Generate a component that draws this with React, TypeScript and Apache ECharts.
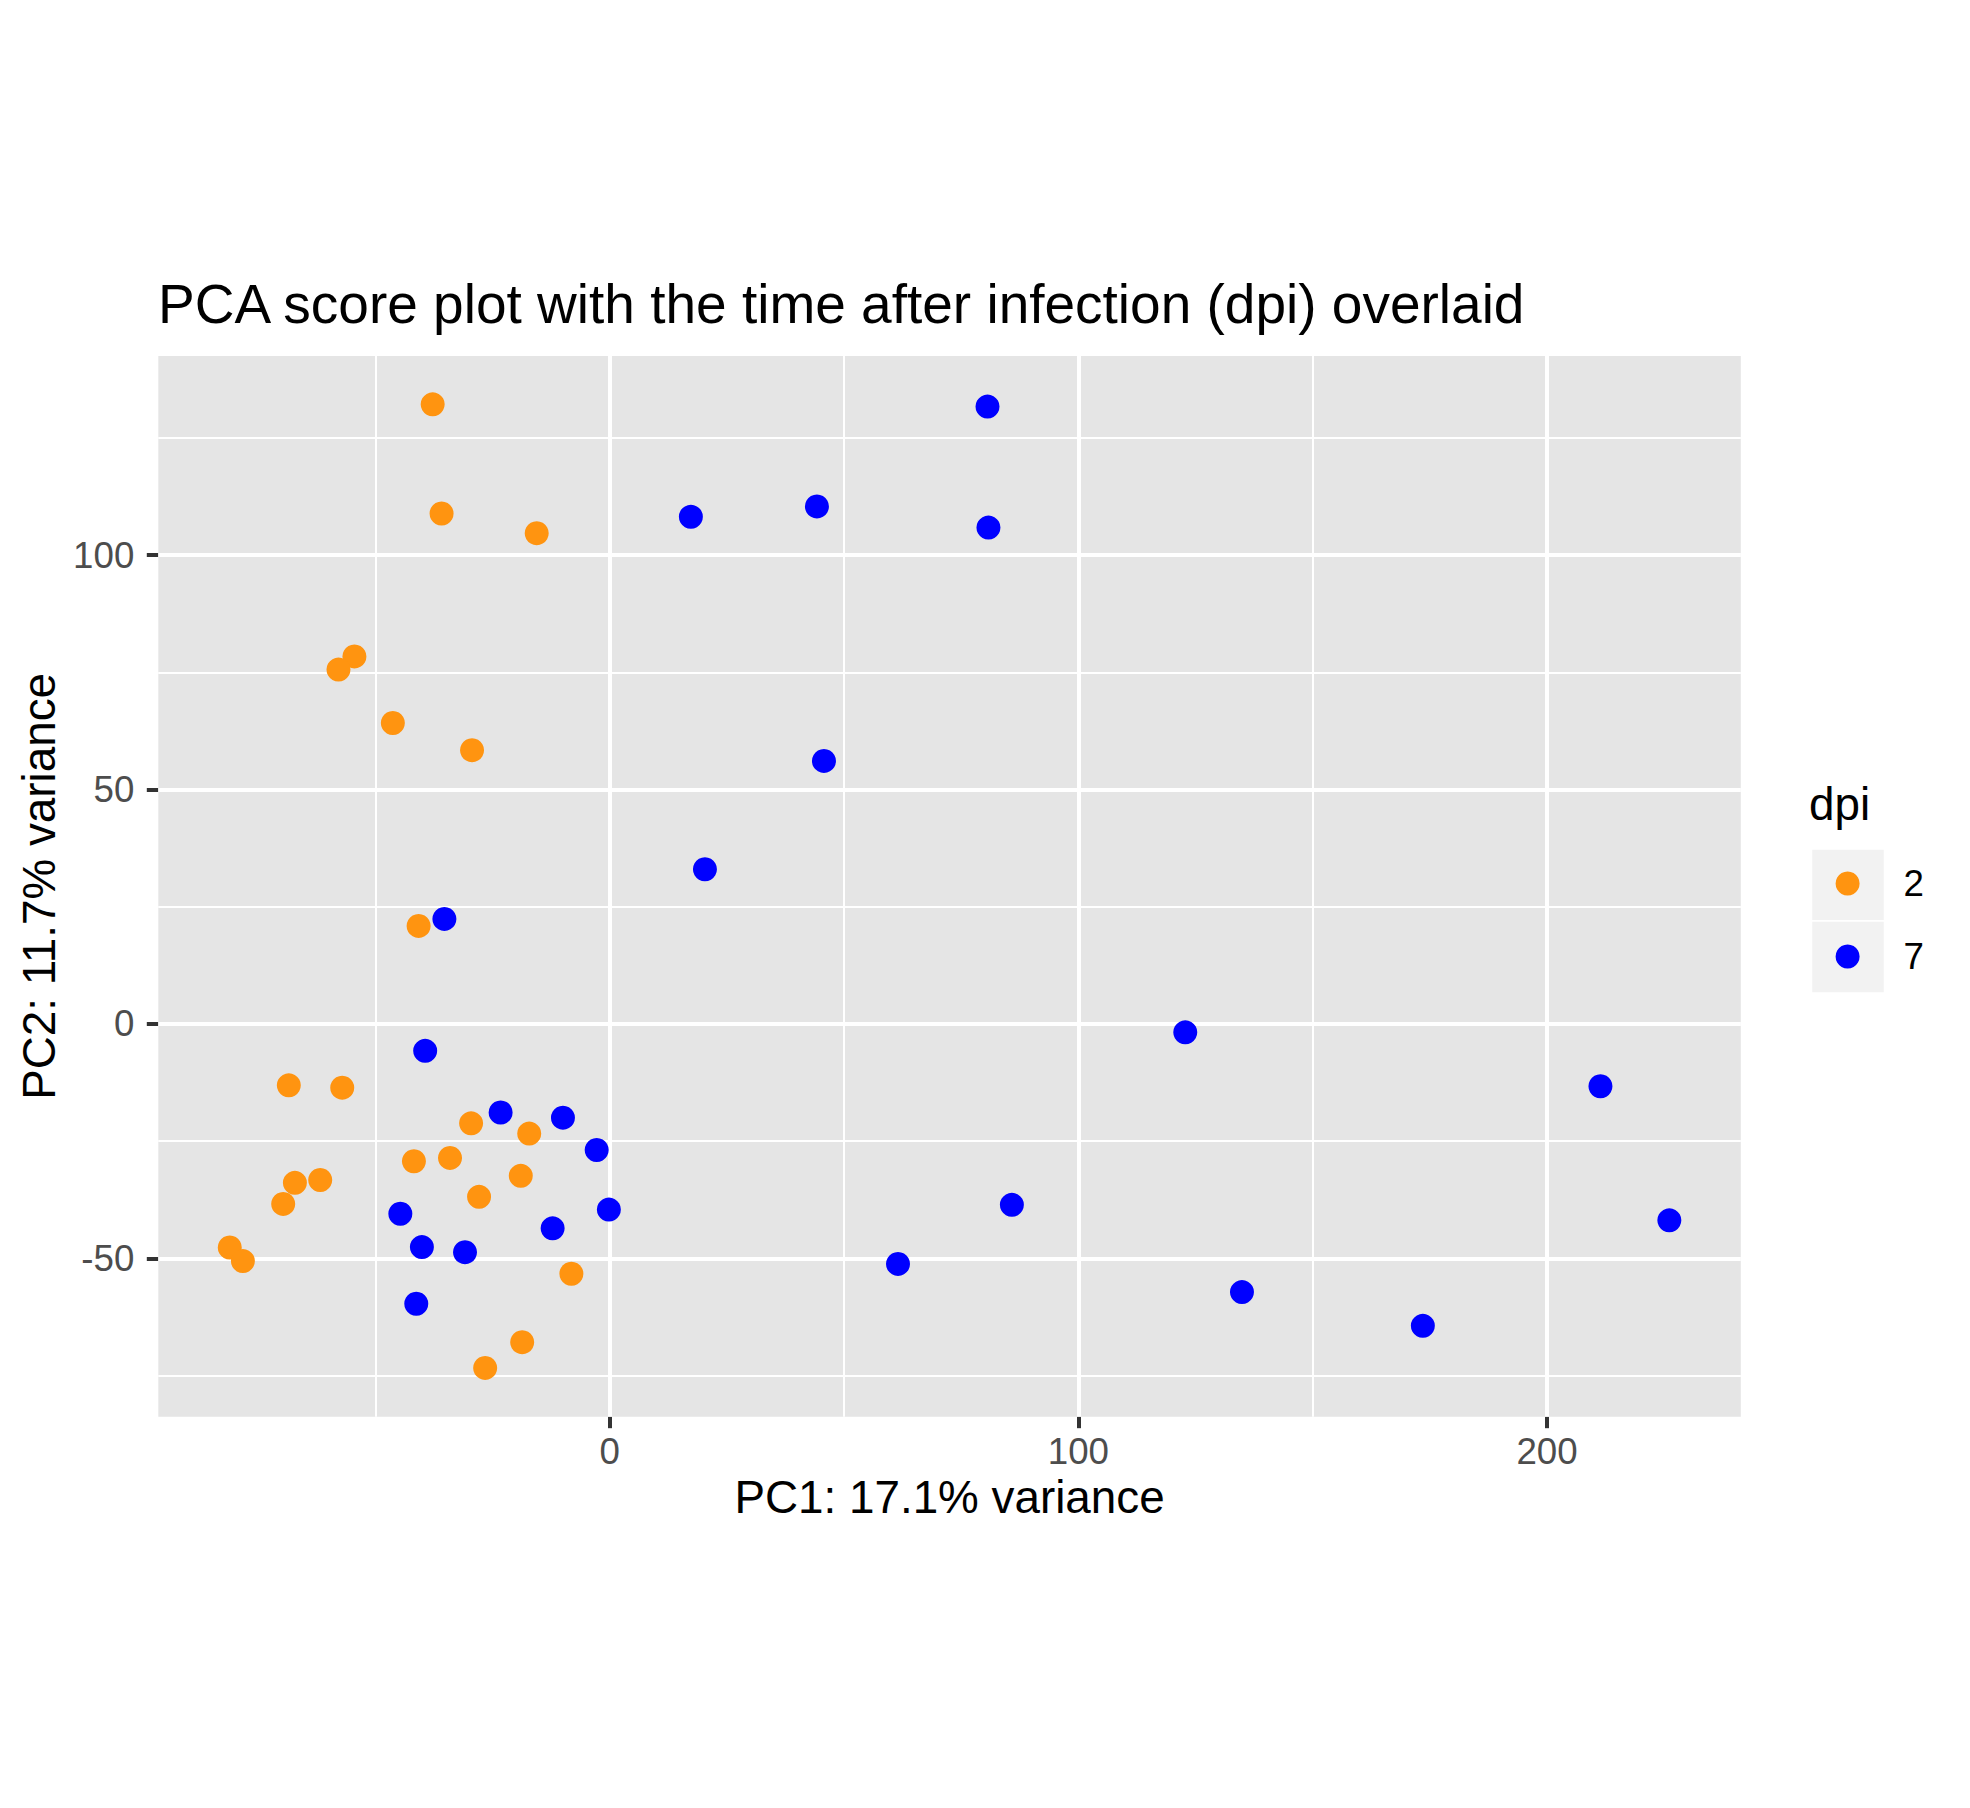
import React, { useEffect, useRef } from "react";
import * as echarts from "echarts";

const TITLE = "PCA score plot with the time after infection (dpi) overlaid";
const X_TITLE = "PC1: 17.1% variance";
const Y_TITLE = "PC2: 11.7% variance";
const LEGEND_TITLE = "dpi";
const GROUPS = ["2", "7"];
const COLORS = ["#FF9410", "#0000FF"];

// dpi 2
const pc1_dpi2 = [-37.8, -35.9, -15.6, -54.5, -57.9, -46.3, -29.4, -40.8, -68.5, -57.1, -29.6, -17.2, -41.8, -34.1, -19.0, -67.2, -61.8, -27.9, -69.7, -81.1, -78.3, -8.2, -18.7, -26.6];
const pc2_dpi2 = [132.2, 108.9, 104.7, 78.4, 75.6, 64.2, 58.4, 20.9, -13.1, -13.6, -21.2, -23.4, -29.3, -28.6, -32.4, -33.9, -33.3, -36.9, -38.4, -47.7, -50.6, -53.3, -67.9, -73.4];
// dpi 7
const pc1_dpi7 = [80.6, 17.3, 44.2, 80.8, 45.7, 20.3, -35.3, -39.4, -23.3, -10.0, -2.8, -44.7, -0.2, -12.2, -40.1, -30.9, -41.3, 122.8, 85.8, 61.5, 134.9, 211.4, 226.1, 173.5];
const pc2_dpi7 = [131.7, 108.2, 110.4, 105.9, 56.1, 33.0, 22.4, -5.75, -18.9, -20.0, -26.9, -40.5, -39.6, -43.6, -47.6, -48.7, -59.7, -1.8, -38.6, -51.2, -57.2, -13.3, -41.9, -64.4];

const X_RANGE = [-96.35, 241.35];
const Y_RANGE = [-83.8, 142.5];
const X_MAJOR = [0, 100, 200];
const X_MINOR = [-50, 50, 150];
const Y_MAJOR = [-50, 0, 50, 100];
const Y_MINOR = [-75, -25, 25, 75, 125];

const FONT = "'Liberation Sans', Arial, Helvetica, sans-serif";

export default function App() {
  const ref = useRef<HTMLDivElement>(null);
  useEffect(() => {
    if (!ref.current) return;
    const chart = echarts.init(ref.current, null, { renderer: "svg" });
    const zip = (a: number[], b: number[]) => a.map((v, i) => [v, b[i]]);
    const gridLines = [
      ...X_MAJOR.map((v) => ({ xAxis: v, lineStyle: { width: 4 } })),
      ...X_MINOR.map((v) => ({ xAxis: v, lineStyle: { width: 2 } })),
      ...Y_MAJOR.map((v) => ({ yAxis: v, lineStyle: { width: 4 } })),
      ...Y_MINOR.map((v) => ({ yAxis: v, lineStyle: { width: 2 } })),
    ];
    const hiddenLine = { show: true, onZero: false, lineStyle: { color: "#FFFFFF", width: 0, opacity: 0 } };
    chart.setOption({
      animation: false,
      backgroundColor: "#FFFFFF",
      textStyle: { fontFamily: FONT },
      title: [
        {
          text: TITLE,
          left: 158,
          top: 276,
          padding: 0,
          textStyle: { fontSize: 55, fontWeight: "normal", color: "#000000", fontFamily: FONT },
        },
        {
          text: LEGEND_TITLE,
          left: 1809,
          top: 781,
          padding: 0,
          textStyle: { fontSize: 45.8, fontWeight: "normal", color: "#000000", fontFamily: FONT },
        },
      ],
      legend: {
        data: GROUPS,
        orient: "vertical",
        left: 1835.6,
        top: 865,
        padding: 0,
        itemWidth: 24,
        itemHeight: 24,
        itemGap: 36,
        icon: "circle",
        textStyle: { fontSize: 36.7, color: "#000000", lineHeight: 24, fontFamily: FONT, padding: [0, 0, 0, 39] },
      },
      graphic: [
        { type: "rect", z: 0, shape: { x: 1811.5, y: 849, width: 73, height: 72 }, style: { fill: "#F2F2F2", stroke: "#FFFFFF", lineWidth: 1.5 } },
        { type: "rect", z: 0, shape: { x: 1811.5, y: 921, width: 73, height: 72 }, style: { fill: "#F2F2F2", stroke: "#FFFFFF", lineWidth: 1.5 } },
      ],
      grid: {
        left: 158.3,
        right: 229.2,
        top: 356,
        bottom: 391.3,
        show: true,
        backgroundColor: "#E5E5E5",
        borderWidth: 0,
      },
      xAxis: {
        type: "value",
        min: X_RANGE[0],
        max: X_RANGE[1],
        name: X_TITLE,
        nameLocation: "middle",
        nameGap: 42,
        nameTextStyle: { fontSize: 45.8, color: "#000000", fontFamily: FONT },
        axisLine: hiddenLine,
        splitLine: { show: false },
        axisTick: { show: true, customValues: X_MAJOR, length: 11.5, lineStyle: { color: "#333333", width: 4 } },
        axisLabel: { customValues: X_MAJOR, margin: 16, fontSize: 36.7, color: "#4D4D4D", fontFamily: FONT },
      },
      yAxis: {
        type: "value",
        min: Y_RANGE[0],
        max: Y_RANGE[1],
        name: Y_TITLE,
        nameLocation: "middle",
        nameGap: 95,
        nameTextStyle: { fontSize: 45.8, color: "#000000", fontFamily: FONT },
        axisLine: hiddenLine,
        splitLine: { show: false },
        axisTick: { show: true, customValues: Y_MAJOR, length: 11.5, lineStyle: { color: "#333333", width: 4 } },
        axisLabel: { customValues: Y_MAJOR, margin: 24, fontSize: 36.7, color: "#4D4D4D", fontFamily: FONT },
      },
      series: [
        {
          name: GROUPS[0],
          type: "scatter",
          z: 3,
          symbol: "circle",
          symbolSize: 24,
          itemStyle: { color: COLORS[0], opacity: 1 },
          data: zip(pc1_dpi2, pc2_dpi2),
          markLine: {
            silent: true,
            z: 1,
            symbol: ["none", "none"],
            label: { show: false },
            emphasis: { disabled: true },
            lineStyle: { color: "#FFFFFF", type: "solid", opacity: 1 },
            data: gridLines,
          },
        },
        {
          name: GROUPS[1],
          type: "scatter",
          z: 3,
          symbol: "circle",
          symbolSize: 24,
          itemStyle: { color: COLORS[1], opacity: 1 },
          data: zip(pc1_dpi7, pc2_dpi7),
        },
      ],
    });
    return () => chart.dispose();
  }, []);
  return (
    <div
      ref={ref}
      style={{ position: "absolute", left: 0, top: 0, width: 1970, height: 1808, background: "#FFFFFF" }}
    />
  );
}
